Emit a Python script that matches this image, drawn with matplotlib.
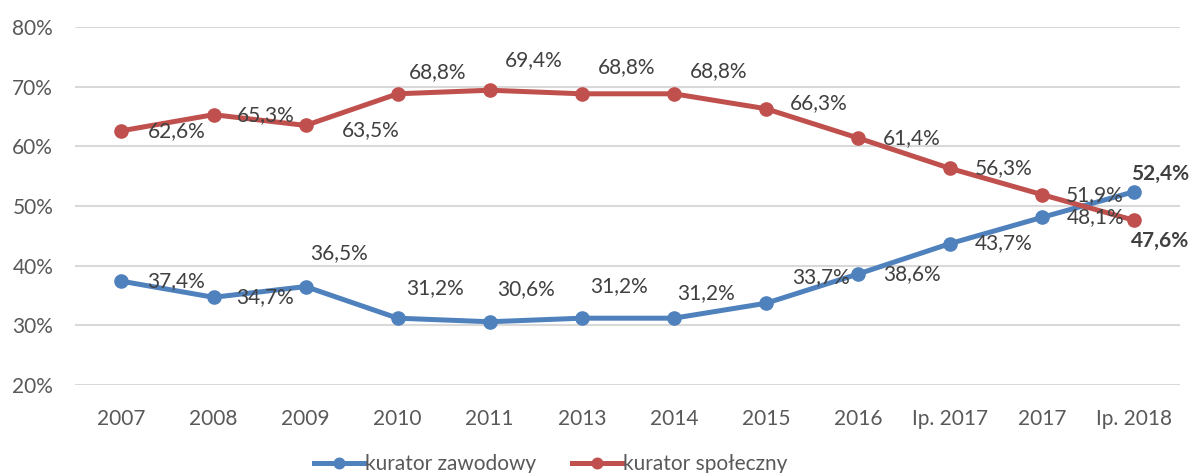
import matplotlib.pyplot as plt

# Categories and values (percent)
years = ["2007", "2008", "2009", "2010", "2011", "2013", "2014", "2015",
         "2016", "Ip. 2017", "2017", "Ip. 2018"]
zawodowy = [37.4, 34.7, 36.5, 31.2, 30.6, 31.2, 31.2, 33.7, 38.6, 43.7, 48.1, 52.4]
spoleczny = [62.6, 65.3, 63.5, 68.8, 69.4, 68.8, 68.8, 66.3, 61.4, 56.3, 51.9, 47.6]
y_ticks = [20, 30, 40, 50, 60, 70, 80]

# Label offsets in pixels (dx, dy with dy up)
blue_offsets = [(55, 0), (52, 0), (33, 33), (37, 30), (36, 33), (37, 32),
                (32, 25), (55, 26), (54, 0), (54, 0), (53, 0), (26, 18)]
red_offsets = [(55, 0), (52, 0), (65, -5), (40, 22), (44, 30), (45, 27),
               (45, 23), (53, 6), (54, 0), (54, 0), (53, 0), (26, -21)]

blue = "#4F81BD"
red = "#C0504D"
text_color = "#404040"
plt.rcParams["font.family"] = ["Lato", "DejaVu Sans"]

fig = plt.figure(figsize=(11.97, 4.73), dpi=100)
ax = fig.add_axes([0.063, 0.186, 0.923, 0.757])

x = list(range(len(years)))
ax.plot(x, zawodowy, color=blue, linewidth=3.6, marker="o", markersize=9.5,
        label="kurator zawodowy", zorder=3)
ax.plot(x, spoleczny, color=red, linewidth=3.6, marker="o", markersize=9.5,
        label="kurator społeczny", zorder=3)

# Data labels
for series, offsets in [(zawodowy, blue_offsets), (spoleczny, red_offsets)]:
    for i, v in enumerate(series):
        weight = "bold" if i == len(series) - 1 else "normal"
        ax.annotate(f"{v:.1f}%".replace(".", ","), (i, v), xytext=offsets[i],
                    textcoords="offset pixels", ha="center", va="center",
                    fontsize=15, color=text_color, fontweight=weight, zorder=4)

ax.set_xlim(-0.5, len(years) - 0.5)
ax.set_ylim(20, 80)
ax.set_yticks(y_ticks)
ax.set_yticklabels([f"{t}%" for t in y_ticks])
ax.set_xticks(x)
ax.set_xticklabels(years)
ax.tick_params(axis="both", length=0, labelsize=15, labelcolor="#595959")
ax.tick_params(axis="x", pad=17)
ax.tick_params(axis="y", pad=16)
ax.grid(axis="y", color="#D9D9D9", linewidth=1.5)
ax.set_axisbelow(True)
for spine in ax.spines.values():
    spine.set_visible(False)

fig.legend(loc="center", bbox_to_anchor=(0.46, 0.018), ncol=2, frameon=False,
           fontsize=15, handlelength=2.4, handletextpad=0.05, columnspacing=1.7,
           labelcolor="#595959", markerscale=0.8)

fig.savefig("out.png", dpi=100)
